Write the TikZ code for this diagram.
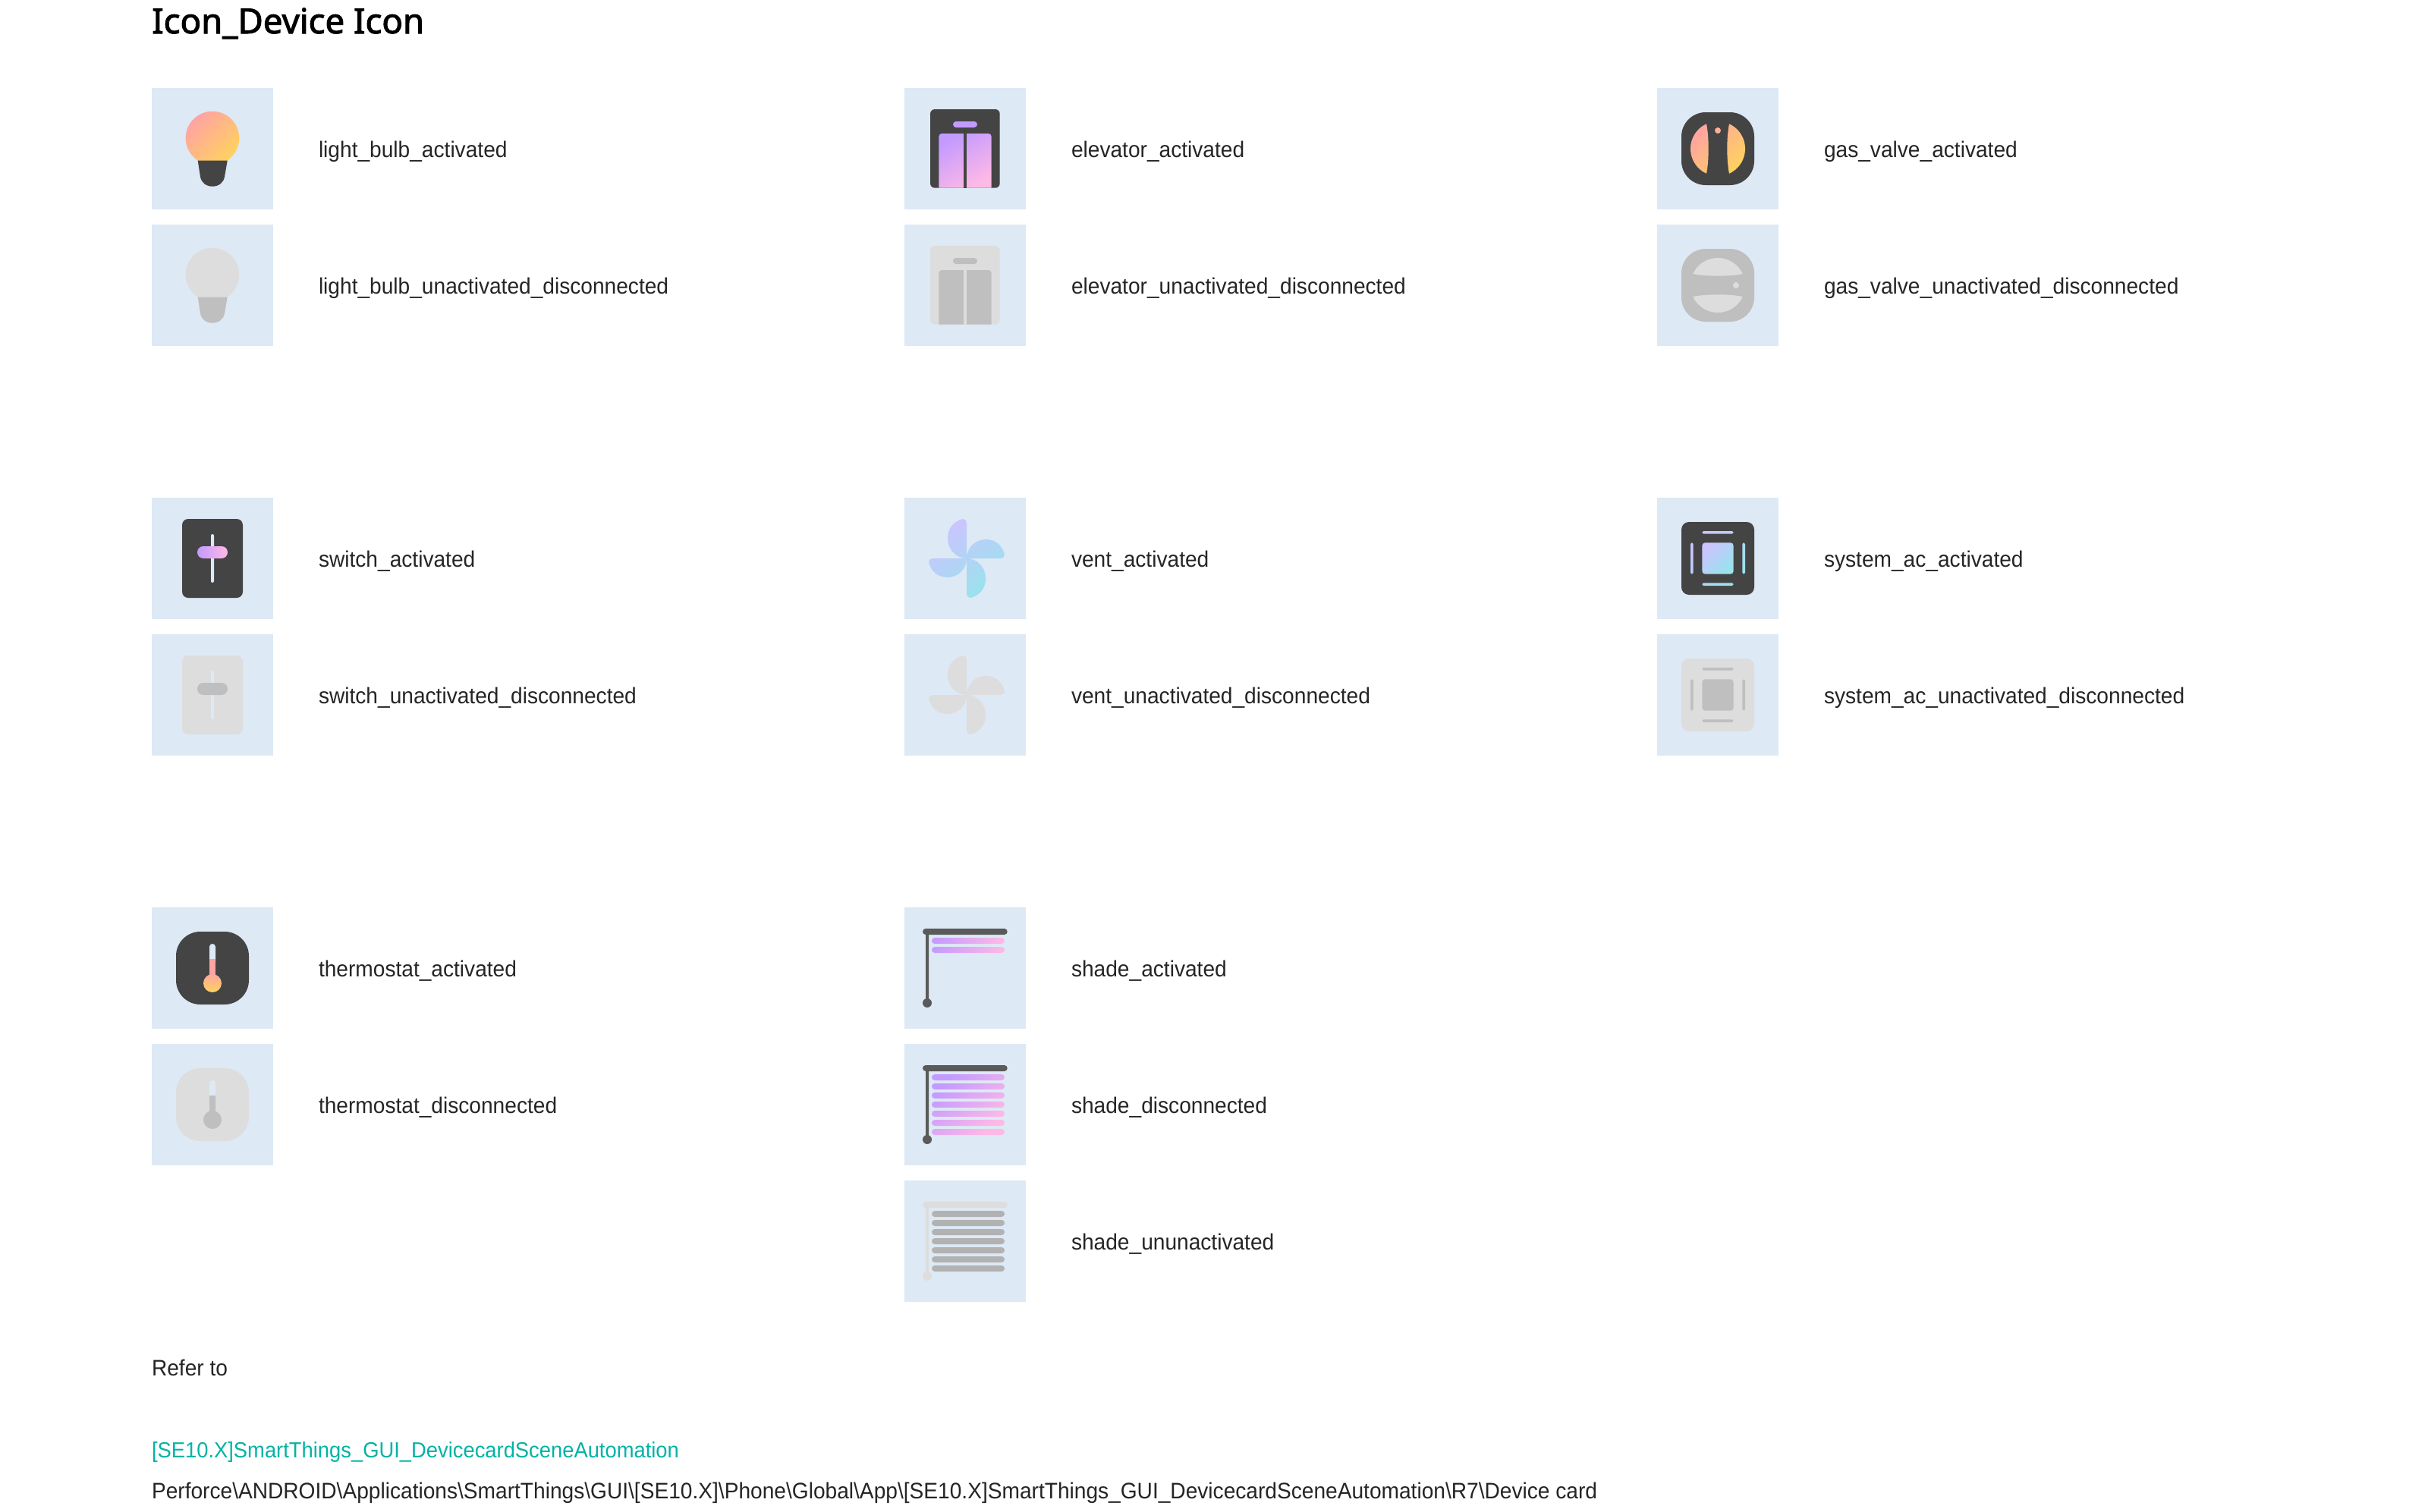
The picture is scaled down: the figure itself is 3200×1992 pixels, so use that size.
\documentclass[tikz,border=0pt]{standalone}
\usepackage{fontspec}
\setmainfont[FakeStretch=0.95]{Liberation Sans}
\newfontfamily\titlefont[FakeBold=2.2]{Noto Sans}
\definecolor{boxblue}{HTML}{DDE9F5}
\definecolor{dark}{HTML}{444444}
\definecolor{gA}{HTML}{DDDDDD}
\definecolor{gB}{HTML}{BFBFBF}
\definecolor{warmA}{HTML}{FFA3A3}
\definecolor{warmB}{HTML}{FFD25E}
\definecolor{purA}{HTML}{C39AFF}
\definecolor{purB}{HTML}{FFB9E5}
\definecolor{coolA}{HTML}{CCC4FF}
\definecolor{coolB}{HTML}{98E3EC}
\definecolor{shadeBar}{HTML}{5A5A5A}
\definecolor{txt}{HTML}{252525}
\definecolor{link}{HTML}{00B3A6}
\tikzset{
 iconbox/.style={rectangle,fill=boxblue,draw=none,anchor=north west,minimum width=160pt,minimum height=160pt,inner sep=0pt,outer sep=0pt},
 lbl/.style={anchor=base west,inner sep=0pt,outer sep=0pt,text=txt,font=\fontsize{29.6}{36}\selectfont},
 warm/.style={top color=warmA,bottom color=warmB,shading angle=45},
 pur/.style={top color=purA,bottom color=purB,shading angle=30},
 purh/.style={left color=purA,right color=purB},
 cool/.style={top color=coolA,bottom color=coolB,shading angle=35},
}
\newcommand{\lenspath}{
 (65,47.3) arc[start angle=114.6,end angle=245.4,radius=36pt] .. controls (68.6,95) and (68.6,65) .. (65,47.3) -- cycle
 (95,47.3) arc[start angle=65.4,end angle=-65.4,radius=36pt] .. controls (91.4,95) and (91.4,65) .. (95,47.3) -- cycle
}
\newcommand{\bladepiece}[4]{
 (82,80) -- ({82+(#2)*(-47)},{80+(#4)*(-47)})
 .. controls ({82+(#2)*(-50)},{80+(#4)*(-50)}) and ({82+(#1)*(-2.5)+(#2)*(-52)},{80+(#3)*(-2.5)+(#4)*(-52)}) .. ({82+(#1)*(-5)+(#2)*(-52)},{80+(#3)*(-5)+(#4)*(-52)})
 .. controls ({82+(#1)*(-17)+(#2)*(-49)},{80+(#3)*(-17)+(#4)*(-49)}) and ({82+(#1)*(-25)+(#2)*(-40)},{80+(#3)*(-25)+(#4)*(-40)}) .. ({82+(#1)*(-25)+(#2)*(-26)},{80+(#3)*(-25)+(#4)*(-26)})
 .. controls ({82+(#1)*(-25)+(#2)*(-12)},{80+(#3)*(-25)+(#4)*(-12)}) and ({82+(#1)*(-14)},{80+(#3)*(-14)}) .. (82,80) -- cycle
}
\newcommand{\ventpath}{\bladepiece{1}{0}{0}{1} \bladepiece{0}{-0.96}{1}{0} \bladepiece{-1}{0}{0}{-1} \bladepiece{0}{0.96}{-1}{0}}
\newcommand{\bulbbase}{(60.7,95.7) -- (99.7,95.7) -- (96,117) .. controls (94.7,125) and (88,129.7) .. (80,129.7) .. controls (72,129.7) and (65.3,125) .. (64,117) -- cycle}
\begin{document}
\begin{tikzpicture}[x=1pt,y=-1pt]
\useasboundingbox (0,0) rectangle (3200,1992);
\fill[white] (0,0) rectangle (3200,1992);
\node[anchor=base west,inner sep=0pt,text=black,font=\titlefont\fontsize{45.6}{54}\selectfont] (title) at (200,44) {Icon\_Device Icon};

% ---------- boxes
\node[iconbox] (b11) at (200,116) {};
\node[iconbox] (b12) at (200,296) {};
\node[iconbox] (e11) at (1192,116) {};
\node[iconbox] (e12) at (1192,296) {};
\node[iconbox] (g11) at (2184,116) {};
\node[iconbox] (g12) at (2184,296) {};
\node[iconbox] (s21) at (200,656) {};
\node[iconbox] (s22) at (200,836) {};
\node[iconbox] (v21) at (1192,656) {};
\node[iconbox] (v22) at (1192,836) {};
\node[iconbox] (a21) at (2184,656) {};
\node[iconbox] (a22) at (2184,836) {};
\node[iconbox] (t31) at (200,1196) {};
\node[iconbox] (t32) at (200,1376) {};
\node[iconbox] (h31) at (1192,1196) {};
\node[iconbox] (h32) at (1192,1376) {};
\node[iconbox] (h33) at (1192,1556) {};

% ---------- labels
\node[lbl] (lb11) at (420,207) {light\_bulb\_activated};
\node[lbl] (lb12) at (420,387) {light\_bulb\_unactivated\_disconnected};
\node[lbl] (le11) at (1412,207) {elevator\_activated};
\node[lbl] (le12) at (1412,387) {elevator\_unactivated\_disconnected};
\node[lbl] (lg11) at (2404,207) {gas\_valve\_activated};
\node[lbl] (lg12) at (2404,387) {gas\_valve\_unactivated\_disconnected};
\node[lbl] (ls21) at (420,747) {switch\_activated};
\node[lbl] (ls22) at (420,927) {switch\_unactivated\_disconnected};
\node[lbl] (lv21) at (1412,747) {vent\_activated};
\node[lbl] (lv22) at (1412,927) {vent\_unactivated\_disconnected};
\node[lbl] (la21) at (2404,747) {system\_ac\_activated};
\node[lbl] (la22) at (2404,927) {system\_ac\_unactivated\_disconnected};
\node[lbl] (lt31) at (420,1287) {thermostat\_activated};
\node[lbl] (lt32) at (420,1467) {thermostat\_disconnected};
\node[lbl] (lh31) at (1412,1287) {shade\_activated};
\node[lbl] (lh32) at (1412,1467) {shade\_disconnected};
\node[lbl] (lh33) at (1412,1647) {shade\_ununactivated};
\node[lbl] (refer) at (200,1813.5) {Refer to};
\node[lbl,text=link,font=\fontsize{28.8}{36}\selectfont] (lnk) at (200,1921.5) {[SE10.X]SmartThings\_GUI\_DevicecardSceneAutomation};
\node[lbl] (path) at (200,1975.5) {Perforce\textbackslash ANDROID\textbackslash Applications\textbackslash SmartThings\textbackslash GUI\textbackslash [SE10.X]\textbackslash Phone\textbackslash Global\textbackslash App\textbackslash [SE10.X]SmartThings\_GUI\_DevicecardSceneAutomation\textbackslash R7\textbackslash Device card};

% ---------- light bulb
\begin{scope}[shift={(200,116)}]
 \shade[warm] (80,66) circle[radius=35.3pt];
 \fill[dark] \bulbbase;
\end{scope}
\begin{scope}[shift={(200,296)}]
 \fill[gA] (80,66) circle[radius=35.3pt];
 \fill[gB] \bulbbase;
\end{scope}

% ---------- elevator
\begin{scope}[shift={(1192,116)}]
 \fill[dark,rounded corners=6pt] (34,28) rectangle (125.7,131.7);
 \fill[purA,rounded corners=4pt] (64,44) rectangle (96,52);
 \shade[pur] (45.3,131.7) {[rounded corners=4pt] -- (45.3,60) -- (114.7,60)} -- (114.7,131.7) -- cycle;
 \fill[dark] (78,60) rectangle (81.7,131.7);
\end{scope}
\begin{scope}[shift={(1192,296)}]
 \fill[gA,rounded corners=6pt] (34,28) rectangle (125.7,131.7);
 \fill[gB,rounded corners=4pt] (64,44) rectangle (96,52);
 \fill[gB] (45.3,131.7) {[rounded corners=4pt] -- (45.3,60) -- (114.7,60)} -- (114.7,131.7) -- cycle;
 \fill[gA] (78,60) rectangle (81.7,131.7);
\end{scope}

% ---------- gas valve
\begin{scope}[shift={(2184,116)}]
 \fill[dark,rounded corners=32pt] (32,32) rectangle (128,128);
 \shade[warm] \lenspath (80,56) circle[radius=4pt];
\end{scope}
\begin{scope}[shift={(2184,296)}]
 \fill[gB,rounded corners=32pt] (32,32) rectangle (128,128);
 \begin{scope}[rotate around={-90:(80,80)}]
  \fill[gA] \lenspath (80,56) circle[radius=4pt];
 \end{scope}
\end{scope}

% ---------- switch
\begin{scope}[shift={(200,656)}]
 \fill[dark,rounded corners=8pt] (40,28) rectangle (120,132);
 \fill[boxblue,rounded corners=2pt] (78,48) rectangle (82,112);
 \shade[purh,rounded corners=8pt] (60,64) rectangle (100,80);
\end{scope}
\begin{scope}[shift={(200,836)}]
 \fill[gA,rounded corners=8pt] (40,28) rectangle (120,132);
 \fill[boxblue,rounded corners=2pt] (78,48) rectangle (82,112);
 \fill[gB,rounded corners=8pt] (60,64) rectangle (100,80);
\end{scope}

% ---------- vent
\begin{scope}[shift={(1192,656)}]
 \shade[cool] \ventpath;
\end{scope}
\begin{scope}[shift={(1192,836)}]
 \fill[gA] \ventpath;
\end{scope}

% ---------- system ac
\begin{scope}[shift={(2184,656)}]
 \fill[dark,rounded corners=10pt] (32,32) rectangle (128,128);
 \shade[top color=coolA,bottom color=coolB,shading angle=45,rounded corners=1.8pt]
  (59.3,44) rectangle (100.7,47.7) (59.3,112.3) rectangle (100.7,116)
  (44,59.3) rectangle (47.7,100.7) (112.3,59.3) rectangle (116,100.7);
 \shade[top color=coolA,bottom color=coolB,shading angle=45,rounded corners=4pt] (59.3,59.3) rectangle (100.7,100.7);
\end{scope}
\begin{scope}[shift={(2184,836)}]
 \fill[gA,rounded corners=10pt] (32,32) rectangle (128,128);
 \fill[gB,rounded corners=1.8pt]
  (59.3,44) rectangle (100.7,47.7) (59.3,112.3) rectangle (100.7,116)
  (44,59.3) rectangle (47.7,100.7) (112.3,59.3) rectangle (116,100.7);
 \fill[gB,rounded corners=4pt] (59.3,59.3) rectangle (100.7,100.7);
\end{scope}

% ---------- thermostat
\begin{scope}[shift={(200,1196)}]
 \fill[dark,rounded corners=32pt] (32,32) rectangle (128,128);
 \fill[boxblue,rounded corners=4pt] (76,48) rectangle (84,76);
 \fill[warmA] (76,68) rectangle (84,92);
 \shade[top color=warmA!90!warmB,bottom color=warmB] (80,100) circle[radius=12pt];
\end{scope}
\begin{scope}[shift={(200,1376)}]
 \fill[gA,rounded corners=32pt] (32,32) rectangle (128,128);
 \fill[boxblue,rounded corners=4pt] (76,48) rectangle (84,76);
 \fill[gB] (76,68) rectangle (84,92) (80,100) circle[radius=12pt];
\end{scope}

% ---------- shade
\begin{scope}[shift={(1192,1196)}]
 \fill[shadeBar] (28,34) rectangle (32,120) (30,126) circle[radius=6pt];
 \fill[shadeBar,rounded corners=4pt] (24,28) rectangle (135.7,36);
 \shade[purh,rounded corners=4pt] (36,40) rectangle (132,48) (36,52) rectangle (132,60);
\end{scope}
\begin{scope}[shift={(1192,1376)}]
 \fill[shadeBar] (28,34) rectangle (32,120) (30,126) circle[radius=6pt];
 \fill[shadeBar,rounded corners=4pt] (24,28) rectangle (135.7,36);
 \shade[top color=purA,bottom color=purB,shading angle=45,rounded corners=4pt]
  (36,40) rectangle (132,48) (36,52) rectangle (132,60) (36,64) rectangle (132,72) (36,76) rectangle (132,84)
  (36,88) rectangle (132,96) (36,100) rectangle (132,108) (36,112) rectangle (132,120);
\end{scope}
\begin{scope}[shift={(1192,1556)}]
 \fill[gA] (28,34) rectangle (32,120) (30,126) circle[radius=6pt];
 \fill[gA,rounded corners=4pt] (24,28) rectangle (135.7,36);
 \fill[black!30,rounded corners=4pt]
  (36,40) rectangle (132,48) (36,52) rectangle (132,60) (36,64) rectangle (132,72) (36,76) rectangle (132,84)
  (36,88) rectangle (132,96) (36,100) rectangle (132,108) (36,112) rectangle (132,120);
\end{scope}
\end{tikzpicture}
\end{document}
